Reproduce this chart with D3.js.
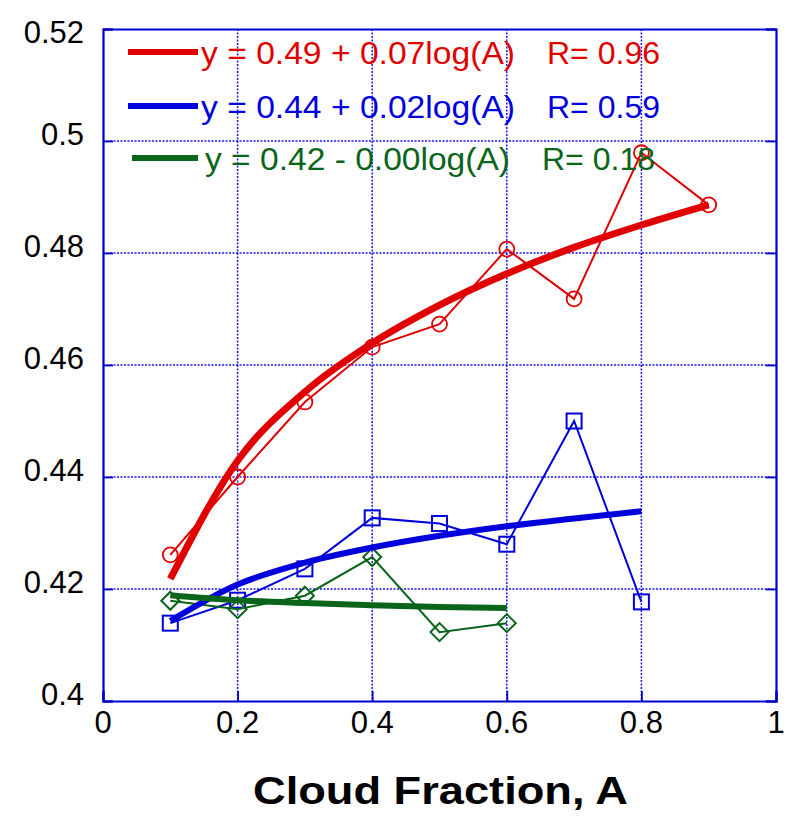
<!DOCTYPE html>
<html>
<head>
<meta charset="utf-8">
<script src="https://cdn.jsdelivr.net/npm/d3@7"></script>
<style>
  html, body { margin: 0; padding: 0; background: #fff; }
  svg { display: block; }
  text { font-family: Arial, "Liberation Sans", Helvetica, sans-serif; }
</style>
</head>
<body>
<svg id="chart" width="793" height="819"></svg>
<script>
// Cloud fraction bins
const fraction = [0.1, 0.2, 0.3, 0.4, 0.5, 0.6, 0.7, 0.8, 0.9];

// Observed values per bin (circles, squares, diamonds)
const redObs   = [0.4261, 0.4400, 0.4534, 0.4632, 0.4673, 0.4807, 0.4718, 0.4979, 0.4886];
const blueObs  = [0.4139, 0.4180, 0.4236, 0.4327, 0.4317, 0.4280, 0.4500, 0.4177];
const greenObs = [0.4179, 0.4164, 0.4188, 0.4257, 0.4123, 0.4139];

// Logarithmic fits evaluated at each bin
const redFit   = [0.4218, 0.4429, 0.4552, 0.4639, 0.4707, 0.4763, 0.4810, 0.4850, 0.4886];
const blueFit  = [0.4143, 0.4208, 0.4247, 0.4274, 0.4295, 0.4312, 0.4326, 0.4339];
const greenFit = [0.4189, 0.4180, 0.4175, 0.4171, 0.4168, 0.4166];

// Legend entries
const legendEq = ["y = 0.49 + 0.07log(A)", "y = 0.44 + 0.02log(A)", "y = 0.42 - 0.00log(A)"];
const legendR  = ["R= 0.96", "R= 0.59", "R= 0.18"];

// Tick labels
const xTicks = [0, 0.2, 0.4, 0.6, 0.8, 1];
const xTickLabels = ["0", "0.2", "0.4", "0.6", "0.8", "1"];
const yTicks = [0.4, 0.42, 0.44, 0.46, 0.48, 0.5, 0.52];
const yTickLabels = ["0.4", "0.42", "0.44", "0.46", "0.48", "0.5", "0.52"];

const xTitle = "Cloud Fraction, A";

const RED = "#e00000", BLUE = "#0000dd", GREEN = "#0a6419";
const FRAME = "#0000cc";

const svg = d3.select("#chart");
const plotL = 103, plotR = 776, plotT = 29, plotB = 701;

const x = d3.scaleLinear().domain([0, 1]).range([plotL, plotR]);
const y = d3.scaleLinear().domain([0.4, 0.52]).range([plotB, plotT]);

// Dotted grid
const grid = svg.append("g");
grid.selectAll("line.gx").data(xTicks.slice(1, -1)).join("line")
  .attr("x1", d => x(d)).attr("x2", d => x(d))
  .attr("y1", plotT).attr("y2", plotB)
  .attr("stroke", "#1515f5").attr("stroke-width", 1.5)
  .attr("stroke-dasharray", "2,1.5");
grid.selectAll("line.gy").data(yTicks.slice(1, -1)).join("line")
  .attr("y1", d => y(d)).attr("y2", d => y(d))
  .attr("x1", plotL).attr("x2", plotR)
  .attr("stroke", "#1515f5").attr("stroke-width", 1.5)
  .attr("stroke-dasharray", "2,1.5");

// Frame with inward ticks
const xAxisB = d3.axisBottom(x).tickValues(xTicks).tickSize(-10).tickFormat("");
const xAxisT = d3.axisTop(x).tickValues(xTicks).tickSize(0).tickFormat("");
const yAxisL = d3.axisLeft(y).tickValues(yTicks).tickSize(-10).tickFormat("");
const yAxisR = d3.axisRight(y).tickValues(yTicks).tickSize(-10).tickFormat("");

function styleAxis(g) {
  g.selectAll("path").attr("stroke", FRAME).attr("stroke-width", 2.2);
  g.selectAll("line").attr("stroke", FRAME).attr("stroke-width", 1.8);
}
svg.append("g").attr("transform", `translate(0,${plotB})`).call(xAxisB).call(styleAxis);
svg.append("g").attr("transform", `translate(0,${plotT})`).call(xAxisT).call(styleAxis);
svg.append("g").attr("transform", `translate(${plotL},0)`).call(yAxisL).call(styleAxis);
svg.append("g").attr("transform", `translate(${plotR},0)`).call(yAxisR).call(styleAxis);

// Tick labels
svg.append("g").selectAll("text").data(xTicks).join("text")
  .attr("x", d => x(d)).attr("y", plotB + 32)
  .attr("text-anchor", "middle").attr("font-size", 31).attr("fill", "#000")
  .text((d, i) => xTickLabels[i]);
svg.append("g").selectAll("text").data(yTicks).join("text")
  .attr("x", 84).attr("y", d => Math.max(y(d) + 4, 43))
  .attr("text-anchor", "end").attr("font-size", 31).attr("fill", "#000")
  .text((d, i) => yTickLabels[i]);

// Axis title
svg.append("text")
  .attr("x", 253).attr("y", 804)
  .attr("font-size", 38).attr("font-weight", "bold").attr("fill", "#000")
  .attr("textLength", 375).attr("lengthAdjust", "spacingAndGlyphs")
  .text(xTitle);

const series = [
  { obs: redObs,   fit: redFit,   color: RED,   marker: "circle",  fitW: 7 },
  { obs: blueObs,  fit: blueFit,  color: BLUE,  marker: "square",  fitW: 6 },
  { obs: greenObs, fit: greenFit, color: GREEN, marker: "diamond", fitW: 6 }
];

const lineGen = d3.line().x(d => x(d[0])).y(d => y(d[1]));
const fitGen = d3.line().x(d => x(d[0])).y(d => y(d[1])).curve(d3.curveMonotoneX);

const plot = svg.append("g");

// Observed connecting lines + markers, then fitted curves on top
series.forEach(s => {
  const pts = s.obs.map((v, i) => [fraction[i], v]);
  plot.append("path").datum(pts)
    .attr("d", lineGen).attr("fill", "none")
    .attr("stroke", s.color).attr("stroke-width", 2);
  const m = plot.append("g").selectAll("g").data(pts).join("g")
    .attr("transform", d => `translate(${x(d[0])},${y(d[1])})`);
  if (s.marker === "circle") {
    m.append("circle").attr("r", 7.5).attr("fill", "none")
      .attr("stroke", s.color).attr("stroke-width", 1.8);
  } else if (s.marker === "square") {
    m.append("rect").attr("x", -7.5).attr("y", -7.5).attr("width", 15).attr("height", 15)
      .attr("fill", "none").attr("stroke", s.color).attr("stroke-width", 2);
  } else {
    m.append("path").attr("d", "M0,-9L9,0L0,9L-9,0Z")
      .attr("fill", "none").attr("stroke", s.color).attr("stroke-width", 2);
  }
});
series.forEach(s => {
  const pts = s.fit.map((v, i) => [fraction[i], v]);
  plot.append("path").datum(pts)
    .attr("d", fitGen).attr("fill", "none")
    .attr("stroke", s.color).attr("stroke-width", s.fitW);
});

// Legend
const legY = [52, 106, 158];
const legX0 = [128, 128, 132];
const legTextX = [201, 201, 205];
const legTextW = [314, 314, 305];
const legRX = [547, 547, 542];
series.forEach((s, i) => {
  svg.append("line")
    .attr("x1", legX0[i]).attr("x2", 198)
    .attr("y1", legY[i]).attr("y2", legY[i])
    .attr("stroke", s.color).attr("stroke-width", 6);
  svg.append("text")
    .attr("x", legTextX[i]).attr("y", legY[i] + 12)
    .attr("font-size", 32).attr("fill", s.color)
    .attr("textLength", legTextW[i]).attr("lengthAdjust", "spacingAndGlyphs")
    .text(legendEq[i]);
  svg.append("text")
    .attr("x", legRX[i]).attr("y", legY[i] + 12)
    .attr("font-size", 32).attr("fill", s.color)
    .text(legendR[i]);
});
</script>
</body>
</html>
